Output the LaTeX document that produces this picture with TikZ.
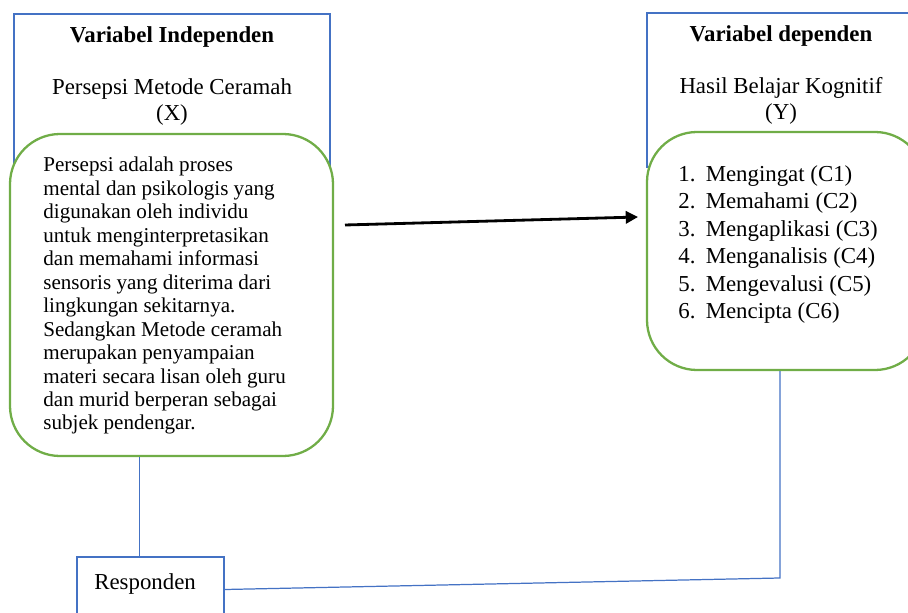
\documentclass[tikz,border=0pt]{standalone}
\usepackage{fontspec}
\setmainfont{Liberation Serif}
\usepackage{xcolor}
\usepackage{tikz}
\usetikzlibrary{arrows.meta}

\definecolor{birugaris}{RGB}{68,114,196}
\definecolor{hijaugaris}{RGB}{112,173,71}

\begin{document}
\begin{tikzpicture}[
    kotakvar/.style={draw=birugaris, line width=0.6pt},
    kotakisi/.style={draw=hijaugaris, line width=1.3pt, fill=white, rounded corners=1cm},
    penghubung/.style={draw=birugaris, line width=0.7pt},
    judul/.style={font=\fontsize{13}{14.7}\selectfont, align=center}
  ]
      % Page frame
      \useasboundingbox (0,0) rectangle (18.16,12.24);

      % Variabel independen box
      \draw[kotakvar] (0.28,8.9) rectangle (6.6,11.96);
      \node[judul] (judulx) at (3.44,11.5) {\textbf{Variabel Independen}};
      \node[judul] (namax) at (3.44,10.2) {Persepsi Metode Ceramah\\(X)};

      % Variabel dependen box
      \draw[kotakvar] (12.94,8.9) rectangle (18.5,11.98);
      \node[judul] (juduly) at (15.62,11.52) {\textbf{Variabel dependen}};
      \node[judul] (namay) at (15.62,10.23) {Hasil Belajar Kognitif\\(Y)};

      % Definition boxes
      \node[kotakisi, minimum width=6.46cm, minimum height=6.44cm] (persepsi) at (3.43,6.34) {};
      \node[kotakisi, minimum width=5.56cm, minimum height=4.76cm] (hasil) at (15.72,7.22) {};

      % Definition text (base = last line)
      \node[anchor=base west, inner sep=0, align=left, font=\fontsize{12}{13.35}\selectfont] (isix) at (0.86,3.64)
        {Persepsi adalah proses\\
         mental dan psikologis yang\\
         digunakan oleh individu\\
         untuk menginterpretasikan\\
         dan memahami informasi\\
         sensoris yang diterima dari\\
         lingkungan sekitarnya.\\
         Sedangkan Metode ceramah\\
         merupakan penyampaian\\
         materi secara lisan oleh guru\\
         dan murid berperan sebagai\\
         subjek pendengar.};

      % Indicator list
      \node[anchor=base west, inner sep=0, align=left, font=\fontsize{13}{15.65}\selectfont] (isiy) at (13.56,5.86)
        {\makebox[1.2em][l]{1.}Mengingat (C1)\\
         \makebox[1.2em][l]{2.}Memahami (C2)\\
         \makebox[1.2em][l]{3.}Mengaplikasi (C3)\\
         \makebox[1.2em][l]{4.}Menganalisis (C4)\\
         \makebox[1.2em][l]{5.}Mengevalusi (C5)\\
         \makebox[1.2em][l]{6.}Mencipta (C6)};

      % Main arrow
      \coordinate (asal) at (6.9,7.74);
      \coordinate (tuju) at (12.76,7.9);
      \draw[line width=1.6pt, -{Triangle[length=7pt,width=7pt]}] (asal) -- (tuju);

      % Responden
      \node[draw=birugaris, line width=1.2pt, minimum width=2.94cm, minimum height=1.3cm] (resp) at (3.01,0.45) {};
      \node[anchor=west, inner sep=0, font=\fontsize{13}{15}\selectfont] (resplabel) at (1.88,0.56) {Responden};

      % Connecting lines
      \draw[penghubung] ([xshift=-0.22cm]resp.north) -- ([xshift=-0.22cm]resp.north |- persepsi.south);
      \coordinate (belok) at (15.6,0.68);
      \draw[penghubung] (resp.east) -- (belok) -- (belok |- hasil.south);

  \end{tikzpicture}
\end{document}
